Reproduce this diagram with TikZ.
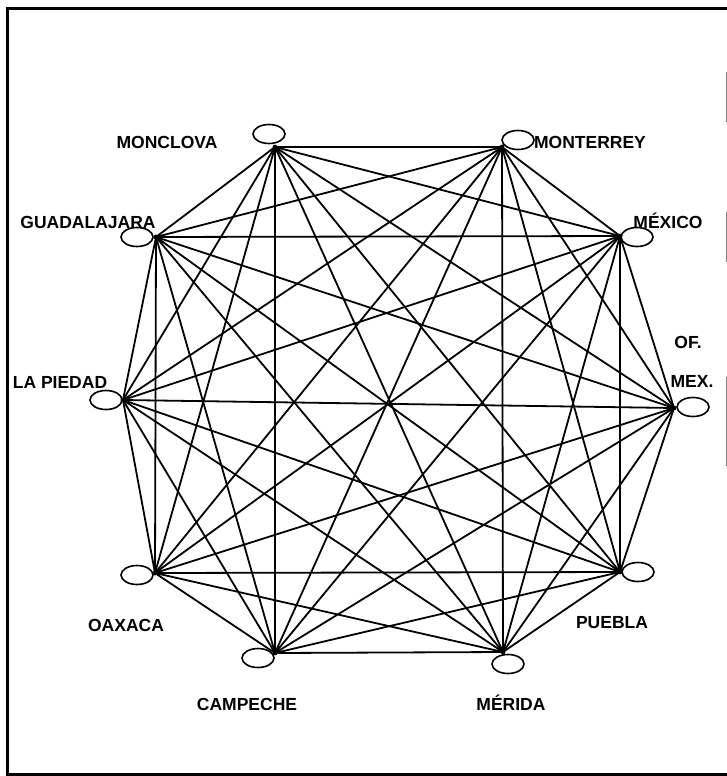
\documentclass[tikz,border=0pt]{standalone}
\usepackage{fontspec}
\setmainfont{Liberation Sans}
\usetikzlibrary{
  shapes.geometric % Für die Ellipsen
}

\begin{document}
\begin{tikzpicture}[
      x=1pt, y=-1pt, % Pixelkoordinaten
      kante/.style={black, line width=1.8pt}, % Verbindungslinien
      stadt/.style={draw, ellipse, line width=1.6pt, minimum width=32pt, minimum height=19pt, inner sep=0pt}, % Knoten
      stadtname/.style={font=\fontsize{17.5}{19}\selectfont\bfseries, inner sep=0pt}, % Beschriftung
      rahmen/.style={line width=3pt, line cap=rect},
    ]
    \useasboundingbox (0,0) rectangle (727,776);

    % Rahmen
    \draw[rahmen] (7,774) -- (7,9) -- (727,9);
    \draw[rahmen] (7,774.5) -- (727,774.5);
    \foreach \ya/\yb in {72/122, 212/262, 377/466}
    \draw[gray, line width=0.8pt] (726,\ya) -- (726,\yb);

    % Koordinaten der Ecken
    \coordinate (k1) at (275,147);  % Monclova
    \coordinate (k2) at (502,147);  % Monterrey
    \coordinate (k3) at (620,236);  % México
    \coordinate (k4) at (674,408);  % Of. Mex.
    \coordinate (k5) at (620,572);  % Puebla
    \coordinate (k6) at (503,652);  % Mérida
    \coordinate (k7) at (275,653);  % Campeche
    \coordinate (k8) at (155,573);  % Oaxaca
    \coordinate (k9) at (123,400);  % La Piedad
    \coordinate (k10) at (156,237); % Guadalajara

    % Ellipsen
    \node[stadt] (e1) at (269,134) {};
    \node[stadt] (e2) at (518,140) {};
    \node[stadt] (e3) at (637,237) {};
    \node[stadt] (e4) at (693,407) {};
    \node[stadt] (e5) at (638,572) {};
    \node[stadt] (e6) at (508,664) {};
    \node[stadt] (e7) at (258,658) {};
    \node[stadt] (e8) at (137,575) {};
    \node[stadt] (e9) at (106,400) {};
    \node[stadt] (e10) at (137,237) {};

    % Vollständiger Graph
    \foreach \a in {1,...,9} {
      \pgfmathtruncatemacro\s{\a+1}
      \foreach \b in {\s,...,10}
      \draw[kante] (k\a) -- (k\b);
    }
    \foreach \a in {1,...,10}
    \fill (k\a) circle (2.4pt);

    % Namen
    \node[stadtname] (n1) at (167,142) {MONCLOVA};
    \node[stadtname] (n2) at (590,142) {MONTERREY};
    \node[stadtname] (n3) at (668,221) {MÉXICO};
    \node[stadtname] (n4a) at (688,342) {OF.};
    \node[stadtname] (n4b) at (692,381) {MEX.};
    \node[stadtname] (n5) at (612,623) {PUEBLA};
    \node[stadtname] (n6) at (511,703) {MÉRIDA};
    \node[stadtname] (n7) at (247,704) {CAMPECHE};
    \node[stadtname] (n8) at (126,625) {OAXACA};
    \node[stadtname] (n9) at (60,382) {LA PIEDAD};
    \node[stadtname] (n10) at (88,222) {GUADALAJARA};
  \end{tikzpicture}
\end{document}
